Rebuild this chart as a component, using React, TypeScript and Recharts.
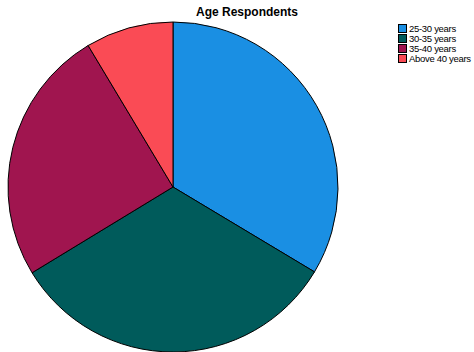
import { PieChart, Pie, Cell } from "recharts";

const categories = ["25-30 years", "30-35 years", "35-40 years", "Above 40 years"];
const shares = [33.6, 32.7, 25.1, 8.6];
const colors = ["#1a8fe3", "#005b5b", "#a0154f", "#fa4b55"];

const data = categories.map((name, i) => ({ name, value: shares[i] }));

export default function App() {
  return (
    <div
      style={{
        position: "fixed",
        left: 0,
        top: 0,
        width: 474,
        height: 352,
        background: "#fff",
        overflow: "hidden",
        fontFamily: "Arial, 'Liberation Sans', sans-serif",
      }}
    >
      <div
        style={{
          position: "absolute",
          left: 196,
          top: 5,
          fontSize: 12,
          fontWeight: "bold",
          color: "#000",
          whiteSpace: "nowrap",
        }}
      >
        Age Respondents
      </div>
      <PieChart
        width={474}
        height={352}
        margin={{ top: 0, right: 0, bottom: 0, left: 0 }}
        style={{ position: "absolute", left: 0, top: 0 }}
      >
        <Pie
          data={data}
          dataKey="value"
          nameKey="name"
          cx={173}
          cy={187}
          outerRadius={165}
          startAngle={90}
          endAngle={-270}
          stroke="#000"
          strokeWidth={1}
          isAnimationActive={false}
        >
          {data.map((d, i) => (
            <Cell key={d.name} fill={colors[i]} />
          ))}
        </Pie>
      </PieChart>
      <div style={{ position: "absolute", left: 398, top: 23 }}>
        {categories.map((c, i) => (
          <div
            key={c}
            style={{
              display: "flex",
              alignItems: "center",
              height: 10,
              fontSize: 9.5,
              letterSpacing: -0.3,
              color: "#000",
              whiteSpace: "nowrap",
            }}
          >
            <span
              style={{
                display: "inline-block",
                width: 9,
                height: 9,
                background: colors[i],
                border: "1px solid #000",
                marginRight: 2,
                boxSizing: "border-box",
                flexShrink: 0,
              }}
            />
            {c}
          </div>
        ))}
      </div>
    </div>
  );
}
